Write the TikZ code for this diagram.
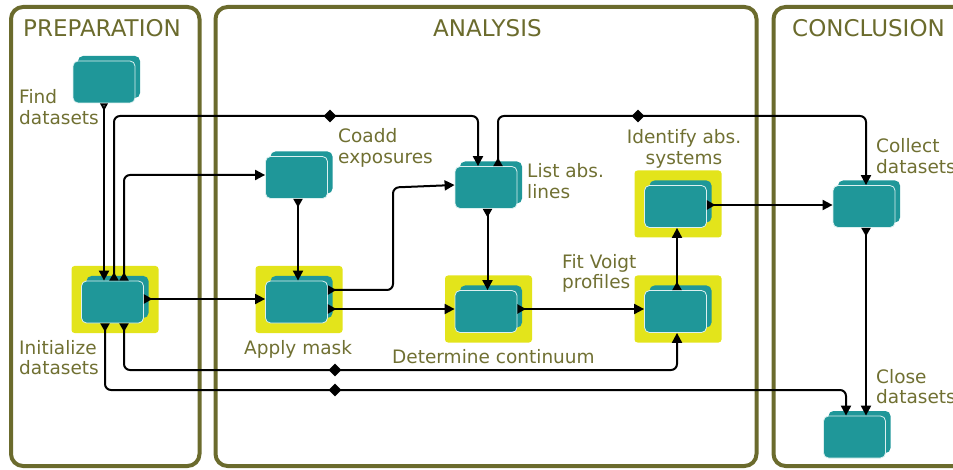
\documentclass[tikz,border=0pt]{standalone}
\usepackage{fontspec}
\setmainfont{DejaVu Sans}
\usetikzlibrary{arrows.meta,shapes.geometric}
\definecolor{tealbox}{RGB}{31,151,153}
\definecolor{hlyellow}{RGB}{227,228,27}
\definecolor{olivepanel}{RGB}{107,107,45}
\definecolor{olivetext}{RGB}{112,112,50}
\definecolor{boxedge}{RGB}{220,240,240}
\tikzset{
  panel/.style={draw=olivepanel, line width=4pt, rounded corners=12pt},
  paneltitle/.style={text=olivepanel, font=\fontsize{23}{27}\selectfont, inner sep=0pt, anchor=base west},
  lbl/.style={text=olivetext, font=\fontsize{18.5}{20.5}\selectfont, inner sep=0pt, align=left, anchor=base west},
  frontbox/.style={fill=tealbox, draw=boxedge, line width=0.8pt, rounded corners=5pt, minimum width=62pt, minimum height=42pt, inner sep=0pt},
  backbox/.style={fill=tealbox, rounded corners=5pt, minimum width=62pt, minimum height=42pt, inner sep=0pt},
  hlbox/.style={fill=hlyellow, rounded corners=3pt, minimum width=87pt, minimum height=67pt, inner sep=0pt},
  flow/.style={line width=2pt, rounded corners=6pt, {Triangle[reversed,length=8.5pt,width=9pt]}-{Triangle[length=10pt,width=10pt]}},
  flowopen/.style={line width=2pt, {Triangle[reversed,length=7.5pt,width=7.5pt,fill=white]}-{Triangle[length=10pt,width=10pt]}},
  dmd/.style={diamond, fill=black, minimum width=13pt, minimum height=13pt, inner sep=0pt}
}
\newcommand\procbox[3]{%
  \node[backbox] at (#2+5,#3-5) {};
  \node[frontbox] (#1) at (#2,#3) {};
}
\newcommand\hlmark[2]{%
  \node[hlbox] at (#1+2.5,#2-2.5) {};
}
\begin{document}
\begin{tikzpicture}[x=1pt,y=-1pt]
\useasboundingbox (0,0) rectangle (953,470);
% panels
\draw[panel] (11,7) rectangle (199.5,466);
\draw[panel] (215.5,7) rectangle (756.5,466);
\draw[panel] (773.5,7) rectangle (990,466);
\node[paneltitle] (tprep) at (23,37) {PREPARATION};
\node[paneltitle] (tana) at (433,37) {ANALYSIS};
\node[paneltitle] (tcon) at (792,37) {CONCLUSION};
% highlights
\hlmark{112.5}{302}
\hlmark{296.5}{302}
\hlmark{486}{311.5}
\hlmark{675.5}{206.5}
\hlmark{675.5}{311.5}
% process boxes
\procbox{find}{104}{82}
\procbox{init}{112.5}{302}
\procbox{coadd}{296.5}{177.5}
\procbox{apply}{296.5}{302}
\procbox{list}{486}{187.5}
\procbox{det}{486}{311.5}
\procbox{ident}{675.5}{206.5}
\procbox{fit}{675.5}{311.5}
\procbox{collect}{864}{206.5}
\procbox{close}{854.5}{437}
% helper rows
\coordinate (rowtop) at (0,116);
\coordinate (rowa) at (0,370);
\coordinate (rowb) at (0,390);
\coordinate (colmid) at (393,0);
% connectors
\draw[flowopen] (find.south) -- (find.south |- init.north);
\draw[flow] ([xshift=1.5pt]init.north) |- ([xshift=-8pt]list.north |- rowtop) -- ([xshift=-8pt]list.north);
\draw[flow] ([xshift=11.5pt]init.north) |- ([yshift=2.5pt]coadd.west);
\draw[flow] ([xshift=1.5pt]coadd.south) -- ([xshift=1.5pt]apply.north);
\draw[flow] ([yshift=3pt]init.east) -- ([yshift=3pt]init.east -| apply.west);
\draw[flow] ([yshift=12pt]apply.east) -| (colmid |- list.west) -- ([yshift=2.5pt]list.west);
\draw[flow] ([yshift=-7pt]apply.east) -- ([yshift=2.5pt]det.west);
\draw[flow] ([xshift=1.5pt]list.south) -- ([xshift=1.5pt]det.north);
\draw[flow] ([yshift=2.5pt]det.east) -- ([yshift=2.5pt]fit.west);
\draw[flow] ([xshift=1.5pt]fit.north) -- ([xshift=1.5pt]ident.south);
\draw[flow] ([yshift=1.5pt]ident.east) -- ([yshift=1.5pt]collect.west);
\draw[flow] ([xshift=12pt]list.north) |- ([xshift=2pt]collect.north |- rowtop) -- ([xshift=2pt]collect.north);
\draw[flow] ([xshift=2pt]collect.south) -- ([xshift=11.5pt]close.north);
\draw[flow] ([xshift=11.5pt]init.south) |- ([xshift=1.5pt]fit.south |- rowa) -- ([xshift=1.5pt]fit.south);
\draw[flow] ([xshift=-7.5pt]init.south) |- ([xshift=-8.5pt]close.north |- rowb) -- ([xshift=-8.5pt]close.north);
% diamonds
\node[dmd] (d1) at (330,116) {};
\node[dmd] (d2) at (638,116) {};
\node[dmd] (d3) at (335,370) {};
\node[dmd] (d4) at (335,390) {};
% labels (base anchor = baseline of last line)
\node[lbl] (lfind) at (19,124.5) {Find\\datasets};
\node[lbl] (linit) at (19,374.5) {Initialize\\datasets};
\node[lbl] (lcoadd) at (338,163.5) {Coadd\\exposures};
\node[lbl] (lapply) at (244,354) {Apply mask};
\node[lbl] (llist) at (527,198.5) {List abs.\\lines};
\node[lbl, align=center, anchor=base] (lident) at (684,164.5) {Identify abs.\\systems};
\node[lbl] (lfit) at (562,288.5) {Fit Voigt\\profiles};
\node[lbl] (ldet) at (392,363) {Determine continuum};
\node[lbl] (lcollect) at (876,173.5) {Collect\\datasets};
\node[lbl] (lclose) at (876,403.5) {Close\\datasets};
\end{tikzpicture}
\end{document}
